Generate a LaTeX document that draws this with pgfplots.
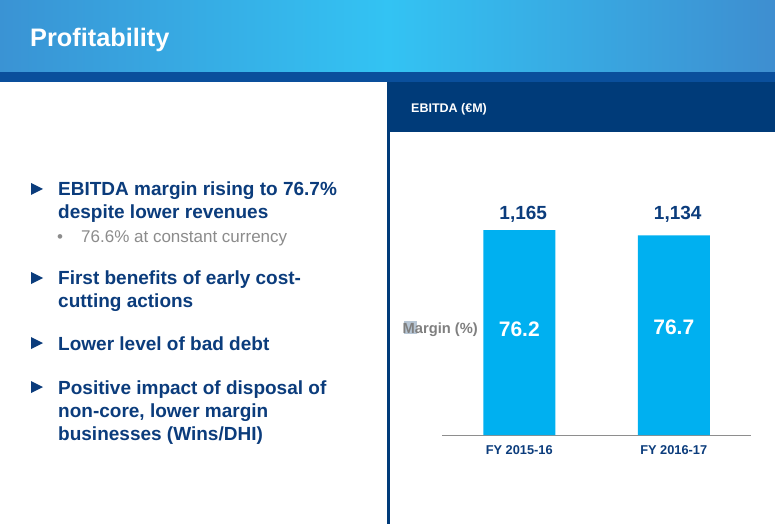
\documentclass[border=0pt]{standalone}
\usepackage{pgfplots}
\pgfplotsset{compat=1.18}
\usepackage{fontspec}
\setmainfont{Liberation Sans}
\definecolor{navy}{HTML}{003B79}
\definecolor{textnavy}{HTML}{0B3C7C}
\definecolor{barblue}{HTML}{00B0F0}
\definecolor{strip}{HTML}{0A4F9C}
\definecolor{hdrL}{HTML}{3A93D4}
\definecolor{hdrM}{HTML}{33C3F3}
\definecolor{hdrR}{HTML}{3E8ED0}
\definecolor{greytxt}{HTML}{8C8C8C}
\definecolor{margingrey}{HTML}{7F7F7F}
\definecolor{mhl}{HTML}{B7C6D5}
\definecolor{axisgrey}{HTML}{8E8E8E}

\begin{document}
\begin{tikzpicture}
\begin{scope}[x=1bp,y=-1bp]
\fill[white] (0,0) rectangle (775,524);
\useasboundingbox (0,0) rectangle (775,524);
\shade[left color=hdrL, right color=hdrR, middle color=hdrM] (0,0) rectangle (775,72);
\fill[strip] (0,72) rectangle (775,82);
\fill[navy] (387,82) rectangle (775,132);
\fill[navy] (387,82) rectangle (390,524);
\node[anchor=base west, inner sep=0, text=white, font=\bfseries\fontsize{25.3bp}{30bp}\selectfont] at (30,47) {Profitability};
\node[anchor=base west, inner sep=0, text=white, font=\bfseries\fontsize{12.5bp}{15bp}\selectfont] at (411,112.5) {EBITDA (€M)};
% bullets
\foreach \yc in {189,278,343,387} {
  \fill[textnavy] (31,\yc-6) -- (43,\yc) -- (31,\yc+6) -- cycle;
}
\begin{scope}[every node/.style={anchor=base west, inner sep=0, text=textnavy, font=\bfseries\fontsize{19bp}{23bp}\selectfont}]
\node at (58,196) {EBITDA margin rising to 76.7\%};
\node at (58,219) {despite lower revenues};
\node at (58,285) {First benefits of early cost-};
\node at (58,308) {cutting actions};
\node at (58,350) {Lower level of bad debt};
\node at (58,394) {Positive impact of disposal of};
\node at (58,417) {non-core, lower margin};
\node at (58,440) {businesses (Wins/DHI)};
\end{scope}
\node[anchor=base west, inner sep=0, text=greytxt, font=\fontsize{17bp}{20bp}\selectfont] at (57,243) {•};
\node[anchor=base west, inner sep=0, text=greytxt, font=\fontsize{17bp}{20bp}\selectfont] at (81,243) {76.6\% at constant currency};
\fill[mhl] (403.5,321) rectangle (416.5,334);
\node[anchor=base east, inner sep=0, text=margingrey, font=\bfseries\fontsize{14.7bp}{17bp}\selectfont] at (478,333.3) {Margin (\%)};
\end{scope}

\begin{axis}[
  at={(442bp,-435bp)}, anchor=south west,
  scale only axis, width=309bp, height=205bp,
  xmin=-0.5, xmax=1.5, ymin=0, ymax=1165,
  axis x line*=bottom, axis y line=none,
  x axis line style={draw=axisgrey, line width=1bp},
  xtick={0,1}, xticklabels={FY 2015-16, FY 2016-17},
  major tick length=0,
  xticklabel style={font=\bfseries\fontsize{12.8bp}{15bp}\selectfont, text=textnavy, yshift=-7bp},
  ybar, bar width=72bp, clip=false,
  nodes near coords, point meta=explicit symbolic,
  visualization depends on={y \as \yval},
  every node near coord/.append style={font=\bfseries\fontsize{19bp}{23bp}\selectfont, text=textnavy,
     xshift=4bp, yshift={4bp+(1165-\yval)*0.17597bp}},
]
\addplot[fill=barblue, draw=none] table[x=x, y=y, meta=lab] {
x y lab
0 1165 1,165
1 1134 1,134
};
\node[text=white, font=\bfseries\fontsize{21bp}{25bp}\selectfont] at (axis cs:0,602) {76.2};
\node[text=white, font=\bfseries\fontsize{21bp}{25bp}\selectfont] at (axis cs:1,614) {76.7};
\end{axis}
\end{tikzpicture}
\end{document}
